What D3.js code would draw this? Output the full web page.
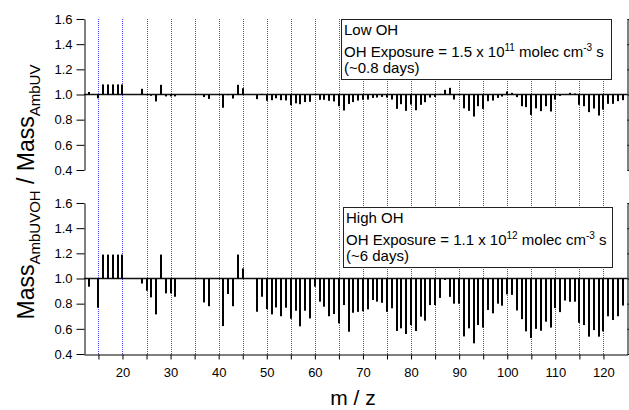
<!DOCTYPE html>
<html>
<head>
<meta charset="UTF-8">
<script src="https://d3js.org/d3.v7.min.js"></script>
<style>
    body { margin: 0; background: #fff; }
    svg { display: block; font-family: 'Liberation Sans', Arial, sans-serif; }
    .axis path, .axis line { stroke: #000; stroke-width: 1px; }
    .axis text { font-size: 13px; fill: #000; font-family: 'Liberation Sans', Arial, sans-serif; }
    .legend-text { font-size: 15px; fill: #000; }
</style>
</head>
<body>
<svg width="629" height="410"></svg>
<script>
// m/z values that have a bar
const mz = [13, 15, 16, 17, 18, 19, 20, 24, 25, 26, 27, 28, 29, 30, 31, 37, 38, 41, 42, 43, 44, 45,
    48, 49, 50, 51, 52, 53, 54, 55, 56, 57, 58, 59, 60, 61, 62, 63, 64, 65, 66, 67, 68,
    69, 70, 71, 72, 73, 74, 75, 76, 77, 78, 79, 80, 81, 82, 83, 84, 85, 86, 87, 88, 89, 90,
    91, 92, 93, 94, 95, 96, 97, 98, 99, 100, 101, 102, 103, 104, 105, 106, 107, 108, 109, 110,
    111, 112, 113, 114, 115, 116, 117, 118, 119, 120, 121, 122, 123, 124];

// Mass ratio, low OH exposure
const lowOH = [1.02, 0.97, 1.08, 1.08, 1.08, 1.08, 1.08, 1.045, 0.995, 0.99, 0.945, 1.077, 0.985, 0.985, 0.985, 0.98, 0.965, 0.895, 0.995, 0.968, 1.077, 1.05,
    0.963, 1.005, 0.95, 0.955, 0.97, 0.955, 0.953, 0.915, 0.93, 0.923, 0.94, 0.942, 1.005, 0.958, 0.958, 0.95, 0.945, 0.907, 0.873, 0.925, 0.94,
    0.952, 0.958, 0.96, 0.973, 0.976, 0.981, 0.976, 0.96, 0.886, 0.923, 0.87, 0.92, 0.875, 0.918, 0.939, 0.976, 0.981, 1.005, 1.037, 1.053, 0.96, 0.995,
    0.89, 0.87, 0.825, 0.907, 0.886, 0.947, 0.952, 0.973, 0.984, 1.024, 1.013, 0.979, 0.907, 0.9, 0.838, 0.89, 0.868, 0.907, 0.865, 0.96,
    0.989, 0.998, 1.013, 1.008, 0.918, 0.907, 0.86, 0.889, 0.833, 0.88, 0.926, 0.926, 0.947, 0.955];

// Mass ratio, high OH exposure
const highOH = [0.935, 0.768, 1.19, 1.19, 1.19, 1.19, 1.19, 0.96, 0.903, 0.85, 0.715, 1.19, 0.882, 0.882, 0.855, 0.81, 0.78, 0.622, 0.877, 0.78, 1.19, 1.08,
    0.736, 0.855, 0.757, 0.715, 0.77, 0.70, 0.768, 0.68, 0.744, 0.62, 0.744, 0.683, 0.935, 0.816, 0.776, 0.70, 0.718, 0.644, 0.789, 0.577, 0.728,
    0.735, 0.74, 0.755, 0.829, 0.816, 0.807, 0.735, 0.763, 0.583, 0.604, 0.559, 0.63, 0.583, 0.697, 0.665, 0.789, 0.789, 0.846, 0.988, 0.854, 0.80, 0.80,
    0.54, 0.604, 0.485, 0.63, 0.61, 0.75, 0.723, 0.80, 0.784, 0.874, 0.87, 0.746, 0.677, 0.58, 0.527, 0.60, 0.585, 0.657, 0.61, 0.765,
    0.733, 0.825, 0.815, 0.816, 0.648, 0.63, 0.538, 0.59, 0.538, 0.58, 0.70, 0.67, 0.70, 0.785];

const yTicks = [0.4, 0.6, 0.8, 1.0, 1.2, 1.4, 1.6];
const xTicks = d3.range(15, 125, 5);
const gridLines = d3.range(15, 125, 5);

const svg = d3.select("svg");

const x = d3.scaleLinear().domain([12, 125]).range([84, 627.5]);

const panels = [
    { values: lowOH, y: d3.scaleLinear().domain([0.4, 1.6]).range([170, 19]),
      box: [341, 19, 270, 60], lines: ["Low OH", "exp", "(~0.8 days)"], base: [35, 57, 73], mant: "1.5", pow: "11" },
    { values: highOH, y: d3.scaleLinear().domain([0.4, 1.6]).range([354, 203]),
      box: [343, 207, 269, 60], lines: ["High OH", "exp", "(~6 days)"], base: [223, 245, 261], mant: "1.1", pow: "12" }
];

// blue dotted verticals through both panels
svg.append("g").selectAll("line")
    .data(gridLines)
    .enter()
    .append("line")
    .attr("x1", d => Math.round(x(d)) + 0.5).attr("x2", d => Math.round(x(d)) + 0.5)
    .attr("y1", 19).attr("y2", 354)
    .attr("stroke", "#4646ff")
    .attr("stroke-width", 1)
    .attr("stroke-dasharray", "1,1");

panels.forEach(p => {
    const data = mz.map((m, i) => ({ m: m, v: p.values[i] }));

    svg.append("line")
        .attr("x1", x.range()[0]).attr("x2", x.range()[1])
        .attr("y1", p.y(1)).attr("y2", p.y(1))
        .attr("stroke", "#111").attr("stroke-width", 1.3);

    svg.append("g").selectAll("rect")
        .data(data)
        .enter()
        .append("rect")
        .attr("x", d => Math.round(x(d.m)) - 1)
        .attr("width", 2)
        .attr("y", d => Math.min(p.y(d.v), p.y(1)))
        .attr("height", d => Math.abs(p.y(d.v) - p.y(1)))
        .attr("fill", "#000");

    svg.append("g")
        .attr("class", "axis")
        .attr("transform", "translate(84.5,0)")
        .call(d3.axisLeft(p.y).tickValues(yTicks).tickFormat(d3.format(".1f"))
            .tickSize(8).tickSizeOuter(0).tickPadding(4));

    svg.append("g")
        .attr("class", "axis")
        .attr("transform", "translate(627.5,0)")
        .call(d3.axisRight(p.y).tickValues(yTicks).tickFormat("")
            .tickSize(6).tickSizeOuter(0));

    // legend box
    const b = p.box;
    svg.append("rect")
        .attr("x", b[0] + 0.5).attr("y", b[1] + 0.5).attr("width", b[2]).attr("height", b[3])
        .attr("fill", "#fff").attr("stroke", "#222").attr("stroke-width", 1);

    svg.append("text").attr("class", "legend-text")
        .attr("x", b[0] + 3).attr("y", p.base[0]).text(p.lines[0]);

    const t = svg.append("text").attr("class", "legend-text")
        .attr("x", b[0] + 3).attr("y", p.base[1]);
    t.append("tspan").text("OH Exposure = " + p.mant + " x 10");
    t.append("tspan").attr("dy", -6).style("font-size", "10px").text(p.pow);
    t.append("tspan").attr("dy", 6).text(" molec cm");
    t.append("tspan").attr("dy", -6).style("font-size", "10px").text("-3");
    t.append("tspan").attr("dy", 6).text(" s");

    svg.append("text").attr("class", "legend-text")
        .attr("x", b[0] + 3).attr("y", p.base[2]).text(p.lines[2]);
});

// bottom x axis
svg.append("g")
    .attr("class", "axis")
    .attr("transform", "translate(0,354.5)")
    .call(d3.axisBottom(x).tickValues(xTicks)
        .tickFormat(d => d % 10 === 0 ? d : "")
        .tickSize(5).tickSizeOuter(0).tickPadding(8));

svg.append("text")
    .attr("x", 353).attr("y", 405)
    .attr("text-anchor", "middle")
    .style("font-size", "21px")
    .text("m / z");

const yl = svg.append("text")
    .attr("transform", "translate(34,192) rotate(-90)")
    .attr("text-anchor", "middle")
    .style("font-size", "23px");
yl.append("tspan").text("Mass");
yl.append("tspan").attr("dy", 6).style("font-size", "15px").text("AmbUVOH");
yl.append("tspan").attr("dy", -6).text(" / Mass");
yl.append("tspan").attr("dy", 6).style("font-size", "15px").text("AmbUV");
</script>
</body>
</html>
